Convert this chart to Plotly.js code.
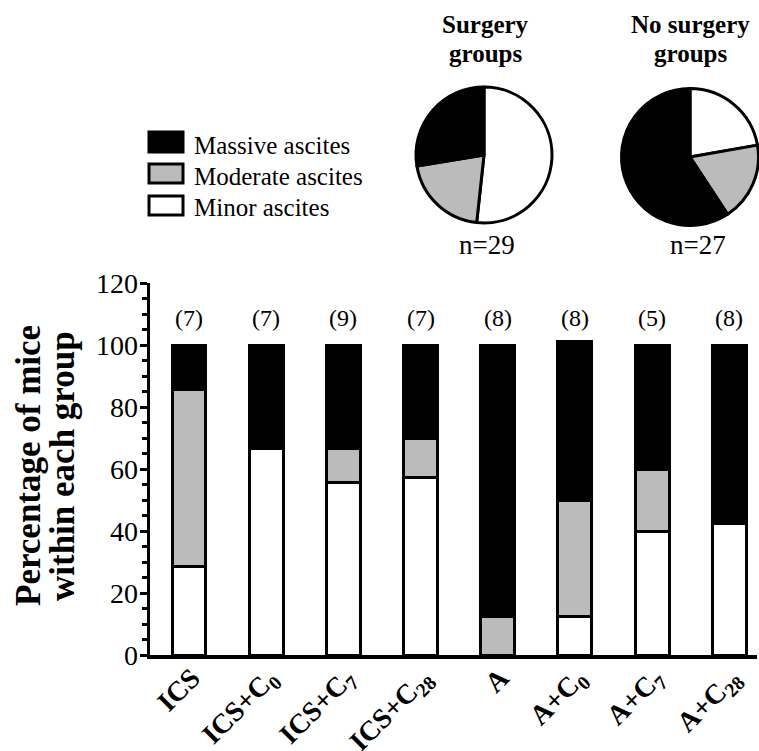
<!DOCTYPE html>
<html>
<head>
<meta charset="utf-8">
<script src="https://cdn.plot.ly/plotly-3.0.1.min.js"></script>
<style>html,body{margin:0;padding:0;background:#fff;}#chart{width:759px;height:751px;}</style>
</head>
<body>
<div id="chart"></div>
<script>
// ---- data ----
var categories = ['ICS', 'ICS+C<sub>0</sub>', 'ICS+C<sub>7</sub>', 'ICS+C<sub>28</sub>', 'A', 'A+C<sub>0</sub>', 'A+C<sub>7</sub>', 'A+C<sub>28</sub>'];
var groupN = [7, 7, 9, 7, 8, 8, 5, 8];
var minorPct = [28.6, 66.7, 55.6, 57.1, null, 12.5, 40, 42.5];
var moderatePct = [57.1, null, 11.1, 12.9, 12.5, 37.5, 20, null];
var massivePct = [14.3, 33.3, 33.3, 30, 87.5, 51, 40, 57.5];
var seriesNames = ['Massive ascites', 'Moderate ascites', 'Minor ascites'];
var pieLabels = ['Minor ascites', 'Moderate ascites', 'Massive ascites'];
var surgeryCounts = [15, 6, 8];
var noSurgeryCounts = [6, 5, 16];
var pieTitles = [['Surgery', 'groups'], ['No surgery', 'groups']];
var pieN = ['n=29', 'n=27'];

var W = 759, H = 751;
var serif = 'Liberation Serif';
var GRAY = '#bbbbbb';
function px(x) { return x / W; }
function py(y) { return (H - y) / H; }

function barTrace(vals, color, name) {
  return {
    type: 'bar', x: categories, y: vals, name: name, width: 0.44,
    marker: {color: color, line: {color: '#000', width: 3}},
    hoverinfo: 'skip', showlegend: false
  };
}

var traces = [
  barTrace(minorPct, '#ffffff', seriesNames[2]),
  barTrace(moderatePct, GRAY, seriesNames[1]),
  barTrace(massivePct, '#000000', seriesNames[0]),
  {
    type: 'pie', values: surgeryCounts, labels: pieLabels, sort: false, direction: 'clockwise', rotation: 0,
    marker: {colors: ['#ffffff', GRAY, '#000000'], line: {color: '#000', width: 3}},
    textinfo: 'none', hoverinfo: 'skip', showlegend: false,
    domain: {x: [px(416), px(552)], y: [py(223), py(87)]}
  },
  {
    type: 'pie', values: noSurgeryCounts, labels: pieLabels, sort: false, direction: 'clockwise', rotation: 0,
    marker: {colors: ['#ffffff', GRAY, '#000000'], line: {color: '#000', width: 3}},
    textinfo: 'none', hoverinfo: 'skip', showlegend: false,
    domain: {x: [px(621.5), px(758.5)], y: [py(225.5), py(88.5)]}
  }
];

var annotations = [];
// group counts above bars
for (var i = 0; i < categories.length; i++) {
  annotations.push({x: i, y: 108.7, xref: 'x', yref: 'y', text: '(' + groupN[i] + ')', showarrow: false,
    xanchor: 'center', yanchor: 'middle', font: {family: serif, size: 24, color: '#000'}});
}
// y axis title (two lines)
annotations.push({x: px(28), y: py(466), xref: 'paper', yref: 'paper', text: '<b>Percentage of mice</b>', textangle: -90,
  showarrow: false, xanchor: 'center', yanchor: 'middle', font: {family: serif, size: 35, color: '#000'}});
annotations.push({x: px(62), y: py(466), xref: 'paper', yref: 'paper', text: '<b>within each group</b>', textangle: -90,
  showarrow: false, xanchor: 'center', yanchor: 'middle', font: {family: serif, size: 35, color: '#000'}});
// pie titles and n labels
var pieCx = [485, 690];
var nCx = [487, 698];
for (var p = 0; p < 2; p++) {
  annotations.push({x: px(pieCx[p]), y: py(25), xref: 'paper', yref: 'paper', text: '<b>' + pieTitles[p][0] + '</b>',
    showarrow: false, xanchor: 'center', yanchor: 'middle', font: {family: serif, size: 25, color: '#000'}});
  annotations.push({x: px(pieCx[p]), y: py(54), xref: 'paper', yref: 'paper', text: '<b>' + pieTitles[p][1] + '</b>',
    showarrow: false, xanchor: 'center', yanchor: 'middle', font: {family: serif, size: 25, color: '#000'}});
  annotations.push({x: px(nCx[p]), y: py(245), xref: 'paper', yref: 'paper', text: pieN[p],
    showarrow: false, xanchor: 'center', yanchor: 'middle', font: {family: serif, size: 27, color: '#000'}});
}
// custom legend
var legendColors = ['#000000', GRAY, '#ffffff'];
var legendBoxY = [[132, 152], [164, 183], [196, 215]];
var legendTextY = [145, 176, 208];
var shapes = [];
for (var k = 0; k < 3; k++) {
  shapes.push({type: 'rect', xref: 'paper', yref: 'paper', x0: px(149), x1: px(183), y0: py(legendBoxY[k][1]), y1: py(legendBoxY[k][0]),
    fillcolor: legendColors[k], line: {color: '#000', width: 3}});
  annotations.push({x: px(192), y: py(legendTextY[k]), xref: 'paper', yref: 'paper', text: seriesNames[k],
    showarrow: false, xanchor: 'left', yanchor: 'middle', font: {family: serif, size: 25, color: '#000'}});
}

var layout = {
  width: W, height: H,
  margin: {l: 0, r: 0, t: 0, b: 0},
  paper_bgcolor: '#fff', plot_bgcolor: '#fff',
  barmode: 'stack',
  showlegend: false,
  font: {family: serif, color: '#000'},
  xaxis: {
    type: 'category', domain: [px(150), px(757)], range: [-0.505, 7.36],
    showline: true, linecolor: '#000', linewidth: 3.5, ticks: '', showgrid: false, zeroline: false,
    tickangle: -45, ticklabelstandoff: -8, ticklabelshift: 3,
    tickfont: {family: serif, size: 28, color: '#000', weight: 'bold'}
  },
  yaxis: {
    domain: [py(655), py(283)], range: [0, 120], dtick: 20, tick0: 0,
    showline: true, linecolor: '#000', linewidth: 3.5, ticks: 'outside', ticklen: 7, tickwidth: 3, tickcolor: '#000',
    minor: {dtick: 5, ticks: 'outside', ticklen: 5, tickwidth: 3, tickcolor: '#000'},
    showgrid: false, zeroline: false, ticklabelstandoff: -4,
    tickfont: {family: serif, size: 28, color: '#000'}
  },
  annotations: annotations,
  shapes: shapes
};

Plotly.newPlot('chart', traces, layout, {displayModeBar: false, staticPlot: true});
</script>
</body>
</html>
